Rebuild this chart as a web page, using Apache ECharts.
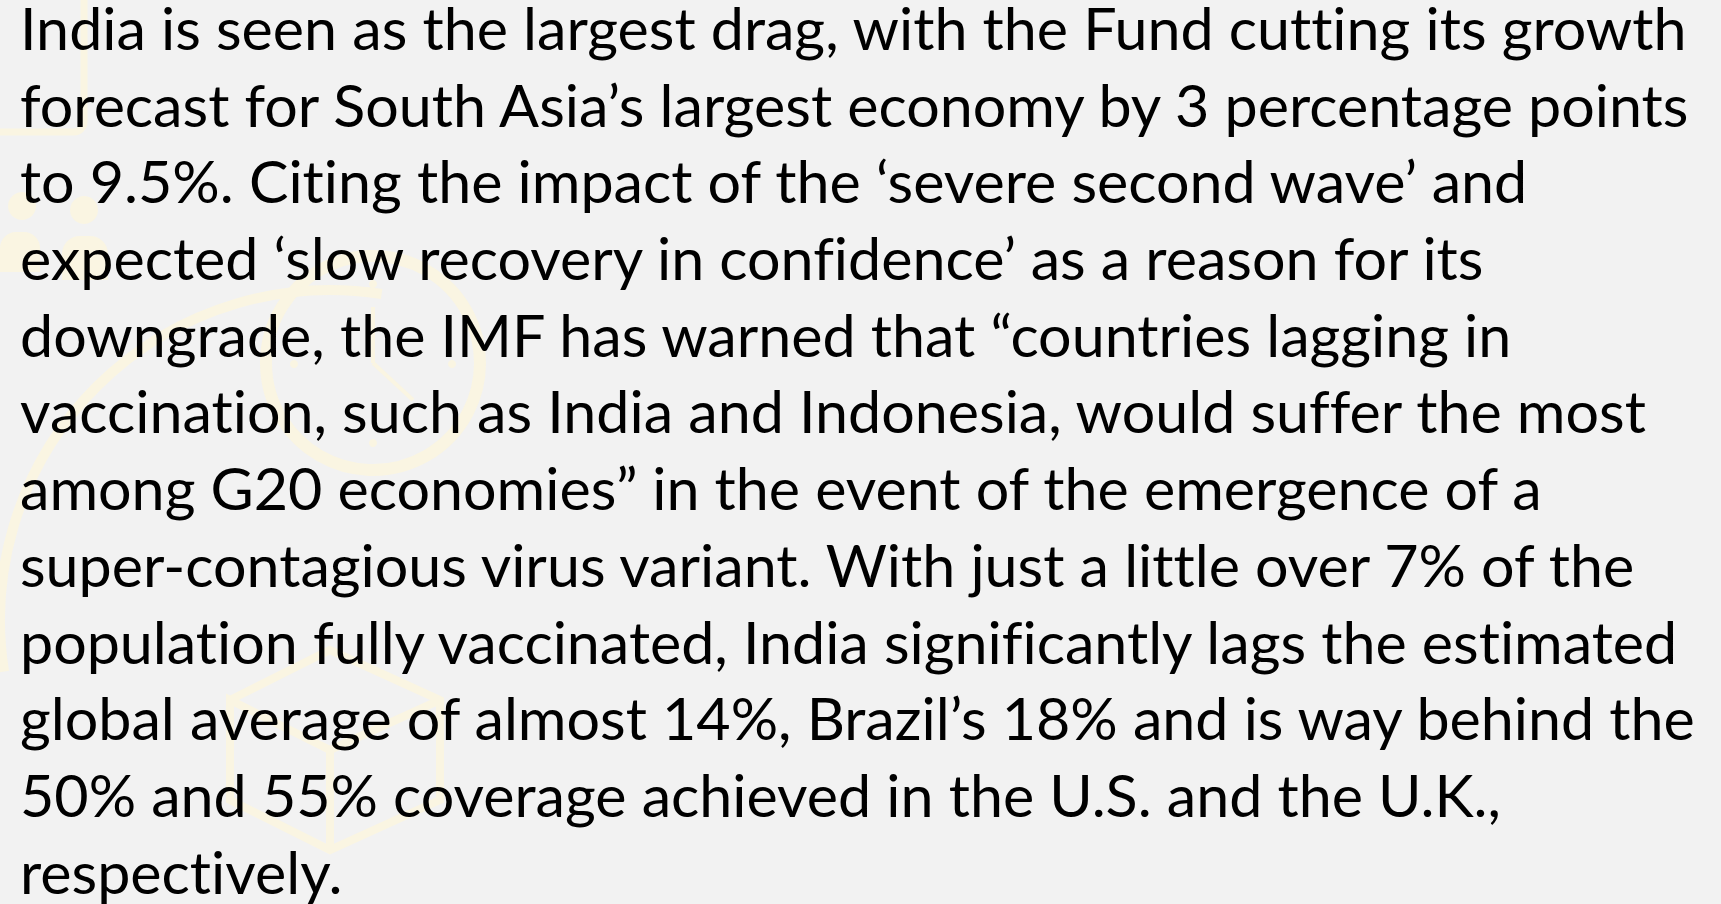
<!DOCTYPE html>
<html>
<head>
<meta charset="utf-8">
<script src="https://cdn.jsdelivr.net/npm/echarts@6/dist/echarts.min.js"></script>
<style>
  html, body { margin: 0; padding: 0; background: #f2f2f2; }
  #chart { width: 1721px; height: 904px; }
  /* Calibri has no ti / fi ligatures; zrender writes a font shorthand inline, hence !important */
  #chart text { font-variant-ligatures: none !important; font-feature-settings: "liga" 0, "clig" 0 !important; }
</style>
</head>
<body>
<div id="chart"></div>
<script>
// paragraph, one entry per rendered line
const textLines = [
  'India is seen as the largest drag, with the Fund cutting its growth',
  'forecast for South Asia’s largest economy by 3 percentage points',
  'to 9.5%. Citing the impact of the ‘severe second wave’ and',
  'expected ‘slow recovery in confidence’ as a reason for its',
  'downgrade, the IMF has warned that “countries lagging in',
  'vaccination, such as India and Indonesia, would suffer the most',
  'among G20 economies” in the event of the emergence of a',
  'super-contagious virus variant. With just a little over 7% of the',
  'population fully vaccinated, India significantly lags the estimated',
  'global average of almost 14%, Brazil’s 18% and is way behind the',
  '50% and 55% coverage achieved in the U.S. and the U.K.,',
  'respectively.',
];

const FONT = 'Lato, Carlito, Calibri, sans-serif';
const FONT_SIZE = 59;
const LEFT = 20;
const FIRST_BOTTOM = 57;
const LINE_GAP = 76.7;
const LINE1_WIDTH = 1667;
const WM = '#faf5e2';

// squeeze Lato horizontally so it takes Calibri's width
const ctx = document.createElement('canvas').getContext('2d');
ctx.font = `${FONT_SIZE}px ${FONT}`;
const sx = LINE1_WIDTH / ctx.measureText(textLines[0]).width;

const chart = echarts.init(document.getElementById('chart'), null, { renderer: 'svg' });

const watermark = [
  // frame top-left
  { type: 'rect', shape: { x: -20, y: -20, width: 104, height: 152, r: 10 },
    style: { fill: 'none', stroke: WM, lineWidth: 7 } },
  // people
  { type: 'circle', shape: { cx: 22, cy: 206, r: 14 }, style: { fill: WM } },
  { type: 'circle', shape: { cx: 84, cy: 210, r: 14 }, style: { fill: WM } },
  { type: 'rect', shape: { x: 0, y: 232, width: 40, height: 40, r: [16, 16, 0, 0] }, style: { fill: WM } },
  { type: 'rect', shape: { x: 62, y: 236, width: 46, height: 44, r: [18, 18, 0, 0] }, style: { fill: WM } },
  // clock
  { type: 'circle', shape: { cx: 373, cy: 363, r: 107 },
    style: { fill: 'none', stroke: WM, lineWidth: 12 } },
  { type: 'line', shape: { x1: 373, y1: 363, x2: 373, y2: 307 },
    style: { stroke: WM, lineWidth: 4 } },
  { type: 'line', shape: { x1: 373, y1: 363, x2: 413, y2: 400 },
    style: { stroke: WM, lineWidth: 4 } },
  { type: 'circle', shape: { cx: 373, cy: 284, r: 4 }, style: { fill: WM } },
  { type: 'circle', shape: { cx: 373, cy: 443, r: 4 }, style: { fill: WM } },
  { type: 'circle', shape: { cx: 294, cy: 364, r: 4 }, style: { fill: WM } },
  { type: 'circle', shape: { cx: 452, cy: 364, r: 4 }, style: { fill: WM } },
  // big arc on the left
  { type: 'arc', shape: { cx: 330, cy: 620, r: 330, startAngle: Math.PI * 0.95, endAngle: Math.PI * 1.55 },
    style: { fill: 'none', stroke: WM, lineWidth: 10 } },
  // box
  { type: 'polyline', shape: { points: [[230, 700], [330, 650], [440, 700], [440, 800], [330, 850], [230, 800], [230, 700], [330, 750], [440, 700]] },
    style: { fill: 'none', stroke: WM, lineWidth: 8 } },
  { type: 'line', shape: { x1: 330, y1: 750, x2: 330, y2: 850 }, style: { stroke: WM, lineWidth: 8 } },
];

const texts = textLines.map((line, i) => ({
  type: 'text',
  x: LEFT,
  y: FIRST_BOTTOM + i * LINE_GAP,
  scaleX: sx,
  style: {
    text: line,
    font: `${FONT_SIZE}px ${FONT}`,
    fill: '#000000',
    textAlign: 'left',
    textVerticalAlign: 'bottom',
  },
}));

chart.setOption({
  backgroundColor: '#f2f2f2',
  graphic: { elements: [...watermark, ...texts] },
});
</script>
</body>
</html>
